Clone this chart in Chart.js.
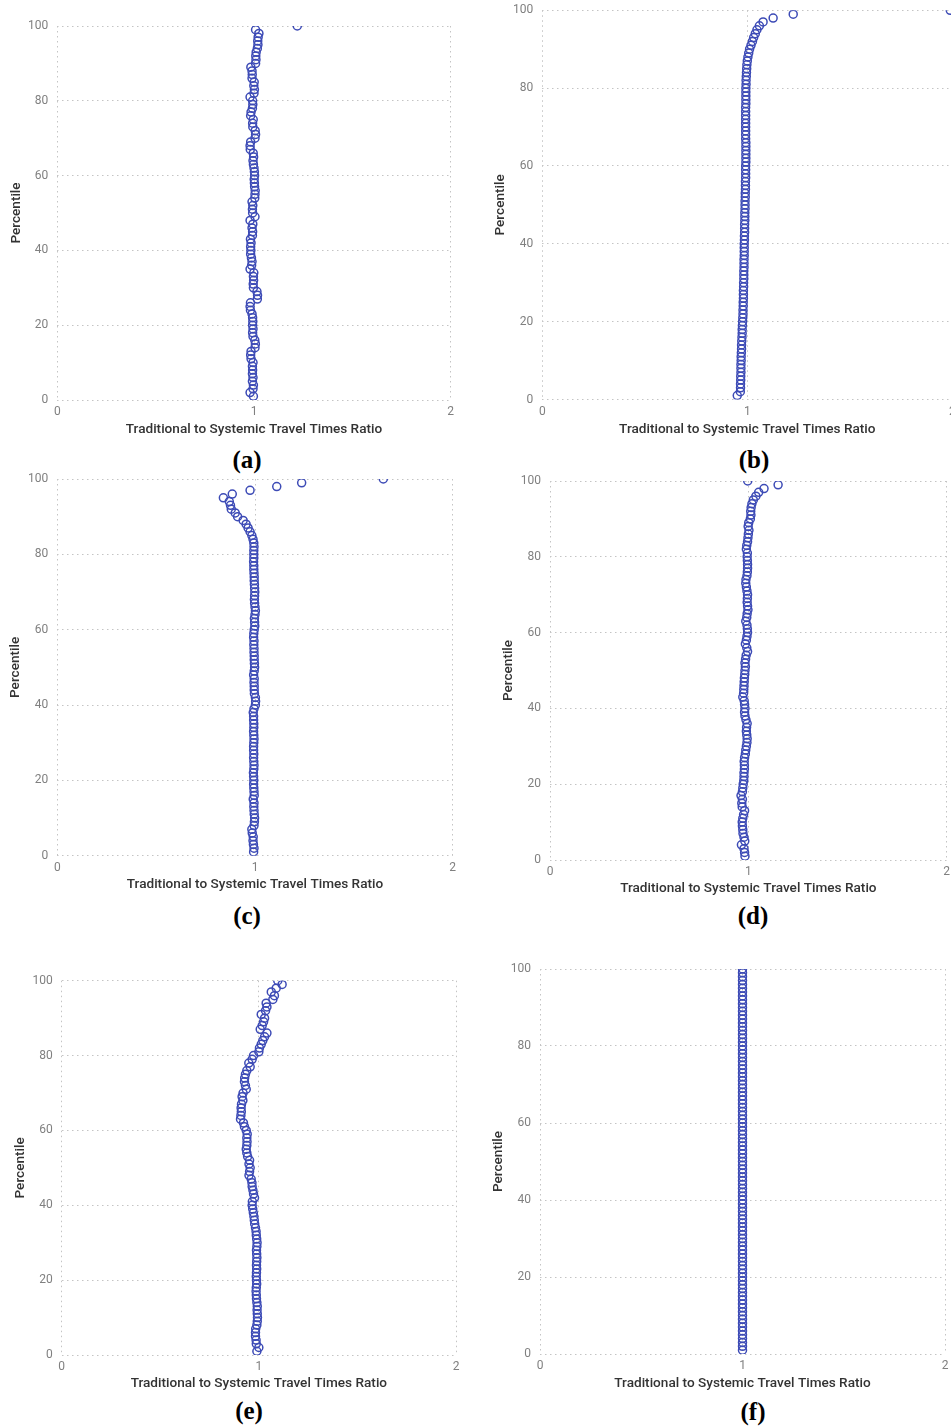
<!DOCTYPE html>
<html>
<head>
<meta charset="utf-8">
<script src="https://cdn.jsdelivr.net/npm/chart.js@4.4.1/dist/chart.umd.min.js"></script>
<style>
  html, body { margin: 0; padding: 0; background: #fff; overflow: hidden; }
  body { width: 951px; height: 1426px; position: relative; }
  canvas { position: absolute; }
  .cap {
    position: absolute;
    font-family: "Liberation Serif", "Tinos", "Times New Roman", Times, serif;
    font-weight: bold;
    font-size: 25px;
    line-height: 1;
    color: #000;
    transform: translate(-50%, -50%);
    white-space: nowrap;
  }
</style>
</head>
<body>
<div class="cap" style="left:247px;top:459px">(a)</div>
<div class="cap" style="left:754px;top:459px">(b)</div>
<div class="cap" style="left:247px;top:915px">(c)</div>
<div class="cap" style="left:753px;top:915px">(d)</div>
<div class="cap" style="left:249px;top:1410px">(e)</div>
<div class="cap" style="left:753px;top:1411px">(f)</div>

<script>
// Percentile of each observation (vertical axis)
const percentiles = [
  1,2,3,4,5,6,7,8,9,10,11,12,13,14,15,16,17,18,19,20,
  21,22,23,24,25,26,27,28,29,30,31,32,33,34,35,36,37,38,39,40,
  41,42,43,44,45,46,47,48,49,50,51,52,53,54,55,56,57,58,59,60,
  61,62,63,64,65,66,67,68,69,70,71,72,73,74,75,76,77,78,79,80,
  81,82,83,84,85,86,87,88,89,90,91,92,93,94,95,96,97,98,99,100
];

// Traditional / systemic travel time ratio at each percentile, one array per scenario
const ratioA = [
  0.997,0.980,0.995,0.997,0.992,0.995,0.992,0.993,0.992,0.995,
  0.985,0.983,0.985,1.005,1.007,1.004,0.995,0.993,0.995,0.993,
  0.994,0.993,0.990,0.982,0.980,0.982,1.017,1.018,1.015,0.997,
  0.996,0.998,0.997,0.999,0.980,0.988,0.990,0.987,0.983,0.984,
  0.983,0.985,0.982,0.992,0.993,0.990,0.994,0.980,1.005,0.993,
  0.992,0.994,0.990,1.004,1.005,1.006,1.003,1.002,1.001,1.003,
  1.002,1.000,0.997,0.995,0.998,0.996,0.981,0.980,0.983,1.005,
  1.008,1.006,0.994,0.993,0.996,0.983,0.985,0.992,0.994,0.993,
  0.980,1.000,1.002,0.999,1.001,0.990,0.991,0.990,0.984,1.008,
  1.010,1.009,1.011,1.017,1.020,1.019,1.021,1.025,1.008,1.220
];
const ratioB = [
  0.951,0.966,0.967,0.967,0.968,0.968,0.969,0.969,0.969,0.970,
  0.970,0.971,0.972,0.972,0.973,0.974,0.975,0.975,0.976,0.977,
  0.978,0.979,0.979,0.980,0.980,0.981,0.981,0.981,0.982,0.982,
  0.983,0.983,0.983,0.984,0.984,0.984,0.985,0.985,0.985,0.985,
  0.986,0.986,0.987,0.987,0.987,0.988,0.988,0.988,0.989,0.989,
  0.989,0.990,0.990,0.991,0.991,0.991,0.992,0.992,0.992,0.992,
  0.993,0.993,0.993,0.993,0.993,0.993,0.992,0.992,0.992,0.992,
  0.992,0.992,0.992,0.992,0.992,0.993,0.993,0.993,0.993,0.993,
  0.994,0.994,0.995,0.996,0.997,0.998,1.000,1.003,1.007,1.011,
  1.018,1.025,1.031,1.039,1.047,1.059,1.077,1.126,1.224,1.990
];
const ratioC = [
  0.993,0.995,0.992,0.990,0.991,0.986,0.984,0.995,0.997,0.998,
  0.996,0.995,0.994,0.995,0.991,0.996,0.995,0.994,0.993,0.994,
  0.993,0.992,0.994,0.995,0.994,0.993,0.994,0.993,0.993,0.994,
  0.995,0.994,0.993,0.994,0.994,0.993,0.993,0.991,0.995,1.002,
  1.003,1.002,0.997,0.996,0.996,0.995,0.996,0.993,0.996,0.998,
  0.997,0.996,0.996,0.995,0.995,0.994,0.995,0.993,0.994,0.996,
  0.999,0.998,0.997,1.000,1.002,1.000,0.998,0.997,0.998,0.999,
  0.998,0.997,0.996,0.996,0.995,0.994,0.994,0.993,0.994,0.994,
  0.994,0.995,0.994,0.990,0.984,0.975,0.965,0.955,0.940,0.912,
  0.900,0.880,0.876,0.870,0.840,0.885,0.975,1.110,1.236,1.649
];
const ratioD = [
  0.983,0.981,0.978,0.965,0.982,0.978,0.973,0.972,0.970,0.969,
  0.972,0.976,0.981,0.969,0.967,0.970,0.963,0.970,0.972,0.974,
  0.977,0.978,0.978,0.980,0.980,0.979,0.981,0.985,0.987,0.990,
  0.993,0.994,0.992,0.990,0.991,0.994,0.988,0.983,0.981,0.983,
  0.981,0.979,0.972,0.976,0.977,0.978,0.979,0.980,0.982,0.983,
  0.985,0.983,0.986,0.989,0.996,0.992,0.985,0.990,0.993,0.996,
  0.995,0.993,0.987,0.992,0.994,0.998,0.996,0.994,0.995,0.996,
  0.993,0.990,0.987,0.988,0.993,0.995,0.996,0.996,0.995,0.994,
  0.995,0.990,0.992,0.996,0.998,1.000,1.003,0.999,1.002,1.010,
  1.013,1.012,1.014,1.018,1.025,1.038,1.052,1.079,1.150,0.997
];
const ratioE = [
  0.990,1.000,0.987,0.986,0.983,0.983,0.984,0.990,0.992,0.993,
  0.992,0.991,0.992,0.990,0.988,0.987,0.986,0.987,0.989,0.988,
  0.987,0.988,0.989,0.988,0.989,0.990,0.989,0.988,0.990,0.991,
  0.989,0.987,0.986,0.983,0.979,0.977,0.975,0.972,0.969,0.966,
  0.967,0.978,0.973,0.970,0.966,0.965,0.961,0.950,0.953,0.956,
  0.950,0.953,0.943,0.939,0.936,0.939,0.940,0.939,0.941,0.936,
  0.927,0.922,0.907,0.909,0.911,0.910,0.912,0.919,0.915,0.920,
  0.936,0.932,0.927,0.928,0.932,0.939,0.956,0.949,0.966,0.973,
  1.000,1.003,1.012,1.020,1.029,1.041,1.007,1.017,1.024,1.029,
  1.012,1.034,1.041,1.037,1.071,1.079,1.063,1.088,1.118,1.096
];
const ratioF = [
  1,1,1,1,1,1,1,1,1,1, 1,1,1,1,1,1,1,1,1,1,
  1,1,1,1,1,1,1,1,1,1, 1,1,1,1,1,1,1,1,1,1,
  1,1,1,1,1,1,1,1,1,1, 1,1,1,1,1,1,1,1,1,1,
  1,1,1,1,1,1,1,1,1,1, 1,1,1,1,1,1,1,1,1,1,
  1,1,1,1,1,1,1,1,1,1, 1,1,1,1,1,1,1,1,1,1
];

// Axis ticks and titles
const xTicks = [0, 1, 2];
const yTicks = [0, 20, 40, 60, 80, 100];
const xTitle = 'Traditional to Systemic Travel Times Ratio';
const yTitle = 'Percentile';

// Page placement of each plot: plot-area edges, y-title centre x, x-title centre y
const panels = [
  { series: ratioA, l: 57.3, r: 450.7, t: 26,    b: 400,    yTitleX: 16,  xTitleY: 430 },
  { series: ratioB, l: 542.3, r: 952.3, t: 10.3, b: 399.5,  yTitleX: 500, xTitleY: 430 },
  { series: ratioC, l: 57.3, r: 452.7, t: 479,   b: 855.7,  yTitleX: 15,  xTitleY: 885 },
  { series: ratioD, l: 550,  r: 946.7, t: 481,   b: 860,    yTitleX: 508, xTitleY: 889 },
  { series: ratioE, l: 61.7, r: 456,   t: 980.7, b: 1355,   yTitleX: 20,  xTitleY: 1384 },
  { series: ratioF, l: 540,  r: 945,   t: 969,   b: 1354,   yTitleX: 498, xTitleY: 1384 }
];

const FONT = 'Roboto, "Noto Sans", "DejaVu Sans", sans-serif';
const TITLE_SIZE = 13.6;
const TITLE_LH = TITLE_SIZE * 1.2;
const PAD_TOP = 20;   // room above the plot for the top tick label and its padding
const PAD_RIGHT = 12;
const MARK = '#3d4bb6';
const GRID = '#c4c4c4';

panels.forEach(p => {
  const left = Math.round(p.yTitleX - TITLE_LH / 2);
  const top = Math.round(p.t - PAD_TOP);
  const right = Math.round(p.r + PAD_RIGHT);
  const bottom = Math.round(p.xTitleY + TITLE_LH / 2);
  const yAxisW = p.l - left;
  const xAxisH = bottom - p.b;
  const padTop = p.t - top;
  const padRight = right - p.r;

  const cv = document.createElement('canvas');
  cv.width = right - left;
  cv.height = bottom - top;
  cv.style.left = left + 'px';
  cv.style.top = top + 'px';
  cv.style.width = (right - left) + 'px';
  cv.style.height = (bottom - top) + 'px';
  document.body.appendChild(cv);

  const points = percentiles.map((pc, i) => ({ x: p.series[i], y: pc }));

  new Chart(cv, {
    type: 'scatter',
    data: {
      datasets: [{
        data: points,
        pointStyle: 'circle',
        pointRadius: 4,
        pointHoverRadius: 4,
        pointBorderWidth: 1.5,
        pointBorderColor: MARK,
        pointBackgroundColor: 'rgba(0,0,0,0)',
        clip: 0
      }]
    },
    options: {
      responsive: false,
      animation: false,
      devicePixelRatio: 1,
      layout: { autoPadding: false, padding: { top: padTop, right: padRight, left: 0, bottom: 0 } },
      plugins: { legend: { display: false }, tooltip: { enabled: false } },
      scales: {
        x: {
          type: 'linear',
          min: 0, max: 2,
          afterBuildTicks: s => { s.ticks = xTicks.map(v => ({ value: v })); },
          afterFit: s => { s.height = xAxisH; },
          grid: { color: GRID, lineWidth: 1, drawTicks: false },
          border: { display: false, dash: [1.5, 3.5] },
          ticks: { color: '#808080', padding: 5, font: { family: FONT, size: 12 }, maxRotation: 0 },
          title: { display: true, text: xTitle, color: '#333333', padding: 0,
                   font: { family: FONT, size: TITLE_SIZE, weight: 500, lineHeight: 1.2 } }
        },
        y: {
          type: 'linear',
          min: 0, max: 100,
          afterBuildTicks: s => { s.ticks = yTicks.map(v => ({ value: v })); },
          afterFit: s => { s.width = yAxisW; },
          grid: { color: GRID, lineWidth: 1, drawTicks: false },
          border: { display: false, dash: [1.5, 3.5] },
          ticks: { color: '#808080', padding: 9, font: { family: FONT, size: 12 } },
          title: { display: true, text: yTitle, color: '#333333', padding: 0,
                   font: { family: FONT, size: TITLE_SIZE, weight: 500, lineHeight: 1.2 } }
        }
      }
    }
  });
});
</script>
</body>
</html>
